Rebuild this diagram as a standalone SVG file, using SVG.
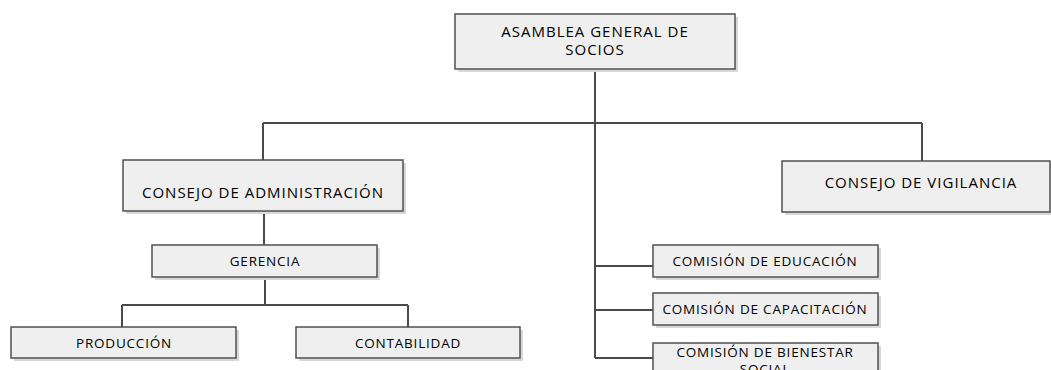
<svg xmlns="http://www.w3.org/2000/svg" width="1051" height="370" viewBox="0 0 1051 370">
<style>
.box{fill:#efefef;stroke:#505050;stroke-width:1.5}
.sh{fill:#d8d8d8}
.t{font-family:"Open Sans","Liberation Sans",sans-serif;font-size:13.5px;letter-spacing:0.8px;fill:#000;text-anchor:middle}
.b{font-size:15px;letter-spacing:1px}
.c{fill:none;stroke:#4a4a4a;stroke-width:2}
</style>
<rect width="1051" height="370" fill="#fff"/>
<g id="connectors">
<path class="c" d="M595 69V358M263 123H922M263 123V160M922 123V161M264 211V245M265 277V305M122 305H408M122 305V327M408 305V327M595 266H653M595 310H653M595 358H653"/>
</g>
<g id="asamblea">
<rect class="sh" x="458" y="17" width="280" height="55"/>
<rect class="box" x="455" y="14" width="280" height="55"/>
<text class="t b" x="595" y="37">ASAMBLEA GENERAL DE</text>
<text class="t b" x="595" y="55">SOCIOS</text>
</g>
<g id="administracion">
<rect class="sh" x="126" y="163" width="280" height="51"/>
<rect class="box" x="123" y="160" width="280" height="51"/>
<text class="t b" x="263" y="198">CONSEJO DE ADMINISTRACIÓN</text>
</g>
<g id="vigilancia">
<rect class="sh" x="785" y="164" width="268" height="51"/>
<rect class="box" x="782" y="161" width="268" height="51"/>
<text class="t b" x="921" y="188">CONSEJO DE VIGILANCIA</text>
</g>
<g id="gerencia">
<rect class="sh" x="155" y="248" width="225" height="32"/>
<rect class="box" x="152" y="245" width="225" height="32"/>
<text class="t" x="265" y="266">GERENCIA</text>
</g>
<g id="produccion">
<rect class="sh" x="14" y="330" width="225" height="31"/>
<rect class="box" x="11" y="327" width="225" height="31"/>
<text class="t" x="124" y="348">PRODUCCIÓN</text>
</g>
<g id="contabilidad">
<rect class="sh" x="299" y="330" width="224" height="31"/>
<rect class="box" x="296" y="327" width="224" height="31"/>
<text class="t" x="408" y="348">CONTABILIDAD</text>
</g>
<g id="educacion">
<rect class="sh" x="656" y="248" width="225" height="32"/>
<rect class="box" x="653" y="245" width="225" height="32"/>
<text class="t" x="765" y="266">COMISIÓN DE EDUCACIÓN</text>
</g>
<g id="capacitacion">
<rect class="sh" x="656" y="296" width="225" height="32"/>
<rect class="box" x="653" y="293" width="225" height="32"/>
<text class="t" x="765" y="314">COMISIÓN DE CAPACITACIÓN</text>
</g>
<g id="bienestar">
<rect class="sh" x="656" y="346" width="225" height="32"/>
<rect class="box" x="653" y="343" width="225" height="32"/>
<text class="t" x="765" y="357">COMISIÓN DE BIENESTAR</text>
<text class="t" x="765" y="374">SOCIAL</text>
</g>
</svg>
